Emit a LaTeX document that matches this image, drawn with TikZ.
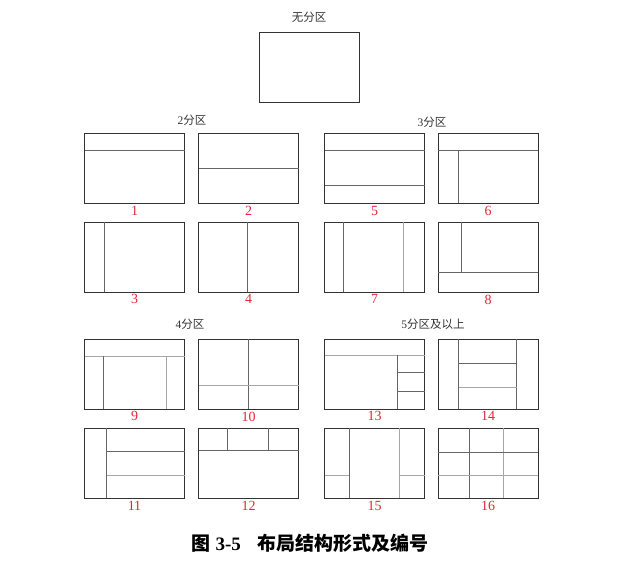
\documentclass[tikz,border=0pt]{standalone}
\usepackage{fontspec}
\setmainfont{Liberation Serif}
\newfontfamily\cjk{Noto Sans CJK SC}
\usepackage{tikz}
\usetikzlibrary{positioning}

\definecolor{numred}{RGB}{226,38,52}

\begin{document}
\begin{tikzpicture}[
    x=1pt, y=-1pt,
    frame/.style={draw=black!80, line width=0.9pt, minimum width=100pt, minimum height=70pt, inner sep=0pt, outer sep=0pt},
    part/.style={draw=black!60, line width=0.8pt},
    faint/.style={draw=black!35, line width=0.8pt},
    num/.style={text=numred, font=\fontsize{14}{14}\selectfont, inner sep=0pt},
    title/.style={text=black!80, font=\fontsize{11.5}{12}\selectfont, inner sep=0pt}
]
\useasboundingbox (0,0) rectangle (643,561);

% Boxes
\node[frame] (b0) at (309,67.5) {};
\node[frame] (b1) at (134.5,168.3) {};
\node[frame] (b2) at (248.5,168.3) {};
\node[frame] (b3) at (134.5,257) {};
\node[frame] (b4) at (248.5,257) {};
\node[frame] (b5) at (374.5,168.3) {};
\node[frame] (b6) at (488,168.3) {};
\node[frame] (b7) at (374.5,257) {};
\node[frame] (b8) at (488,257) {};
\node[frame] (b9) at (134.5,374) {};
\node[frame] (b10) at (248.5,374) {};
\node[frame] (b11) at (134.5,463.3) {};
\node[frame] (b12) at (248.5,463.3) {};
\node[frame] (b13) at (374.5,374) {};
\node[frame] (b14) at (488,374) {};
\node[frame] (b15) at (374.5,463.3) {};
\node[frame] (b16) at (488,463.3) {};

% Group titles
\node[title] (t0) at (309,17) {{\cjk 无分区}};
\node[title] (t2) at (192,120) {2{\cjk 分区}};
\node[title] (t3) at (432,122) {3{\cjk 分区}};
\node[title] (t4) at (190,324) {4{\cjk 分区}};
\node[title] (t5) at (433,324) {5{\cjk 分区及以上}};

% Partition lines (box-local coordinates)
\begin{scope}[shift={(b1.north west)}]
\draw[part] (0,17) -- (100,17);
\end{scope}
\begin{scope}[shift={(b2.north west)}]
\draw[part] (0,35) -- (100,35);
\end{scope}
\begin{scope}[shift={(b3.north west)}]
\draw[part] (20,0) -- (20,70);
\end{scope}
\begin{scope}[shift={(b4.north west)}]
\draw[part] (48.5,0) -- (48.5,70);
\end{scope}
\begin{scope}[shift={(b5.north west)}]
\draw[part] (0,17) -- (100,17);
\draw[part] (0,52) -- (100,52);
\end{scope}
\begin{scope}[shift={(b6.north west)}]
\draw[part] (0,17) -- (100,17);
\draw[part] (20,17) -- (20,70);
\end{scope}
\begin{scope}[shift={(b7.north west)}]
\draw[part] (19,0) -- (19,70);
\draw[faint] (78.5,0) -- (78.5,70);
\end{scope}
\begin{scope}[shift={(b8.north west)}]
\draw[part] (23,0) -- (23,50);
\draw[part] (0,50) -- (100,50);
\end{scope}
\begin{scope}[shift={(b9.north west)}]
\draw[faint] (0,17.5) -- (100,17.5);
\draw[part] (19,17.5) -- (19,70);
\draw[faint] (82,17.5) -- (82,70);
\end{scope}
\begin{scope}[shift={(b10.north west)}]
\draw[part] (50,0) -- (50,70);
\draw[faint] (0,46) -- (100,46);
\end{scope}
\begin{scope}[shift={(b11.north west)}]
\draw[part] (22,0) -- (22,70);
\draw[part] (22,23.5) -- (100,23.5);
\draw[faint] (22,47.5) -- (100,47.5);
\end{scope}
\begin{scope}[shift={(b12.north west)}]
\draw[part] (0,22.5) -- (100,22.5);
\draw[part] (29,0) -- (29,22.5);
\draw[part] (69.5,0) -- (69.5,22.5);
\end{scope}
\begin{scope}[shift={(b13.north west)}]
\draw[faint] (0,16.5) -- (100,16.5);
\draw[part] (73,16.5) -- (73,70);
\draw[part] (73,33.5) -- (100,33.5);
\draw[part] (73,52.5) -- (100,52.5);
\end{scope}
\begin{scope}[shift={(b14.north west)}]
\draw[part] (20.5,0) -- (20.5,70);
\draw[part] (78.5,0) -- (78.5,70);
\draw[part] (20.5,24.5) -- (78.5,24.5);
\draw[faint] (20.5,48) -- (78.5,48);
\end{scope}
\begin{scope}[shift={(b15.north west)}]
\draw[part] (24.5,0) -- (24.5,70);
\draw[faint] (75,0) -- (75,70);
\draw[faint] (0,47) -- (24.5,47);
\draw[faint] (75,47) -- (100,47);
\end{scope}
\begin{scope}[shift={(b16.north west)}]
\draw[part] (31.5,0) -- (31.5,70);
\draw[faint] (65,0) -- (65,70);
\draw[part] (0,24) -- (100,24);
\draw[faint] (0,47.5) -- (100,47.5);
\end{scope}

% Numbers
\node[num, below=2.5pt of b1] (n1) {1};
\node[num, below=2.5pt of b2] (n2) {2};
\node[num, below=2.5pt of b3] (n3) {3};
\node[num, below=2.5pt of b4] (n4) {4};
\node[num, below=2.5pt of b5] (n5) {5};
\node[num, below=2.5pt of b6] (n6) {6};
\node[num, below=2.5pt of b7] (n7) {7};
\node[num, below=2.5pt of b8] (n8) {8};
\node[num, below=2.5pt of b9] (n9) {9};
\node[num, below=2.5pt of b10] (n10) {10};
\node[num, below=2.5pt of b11] (n11) {11};
\node[num, below=2.5pt of b12] (n12) {12};
\node[num, below=2.5pt of b13] (n13) {13};
\node[num, below=2.5pt of b14] (n14) {14};
\node[num, below=2.5pt of b15] (n15) {15};
\node[num, below=2.5pt of b16] (n16) {16};

% Caption
\node[font=\fontsize{19}{19}\selectfont\bfseries, inner sep=0pt] (cap) at (310.3,543.3)
  {{\cjk 图}\hspace{5pt}3-5\hspace{17pt}{\cjk 布局结构形式及编号}};

\end{tikzpicture}
\end{document}
